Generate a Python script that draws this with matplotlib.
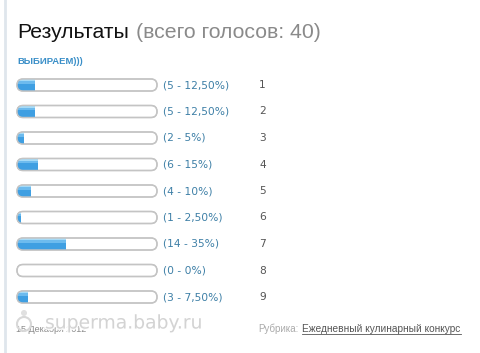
import numpy as np
import matplotlib
matplotlib.use("Agg")
import matplotlib.pyplot as plt
from matplotlib.patches import FancyBboxPatch, Circle
import matplotlib.patheffects as pe

plt.rcParams['font.family'] = ['Liberation Sans', 'DejaVu Sans']

# poll data
options = ["1", "2", "3", "4", "5", "6", "7", "8", "9"]
votes = [5, 5, 2, 6, 4, 1, 14, 0, 3]
percents = [12.5, 12.5, 5, 15, 10, 2.5, 35, 0, 7.5]
pct_labels = ["12,50%", "12,50%", "5%", "15%", "10%", "2,50%", "35%", "0%", "7,50%"]
total = 40

fig = plt.figure(figsize=(4.8, 3.53), dpi=100)
ax = fig.add_axes([0, 0, 1, 1])
ax.set_xlim(0, 480)
ax.set_ylim(353, 0)
ax.axis("off")

# left border line
ax.plot([5, 5], [0, 353], color="#dfe6ec", lw=2)

ax.text(17, 33, "Результаты", fontsize=15.3, color="#111111", va="center")
ax.text(136, 33, "(всего голосов: %d)" % total, fontsize=15.3, color="#8a8a8a", va="center")
ax.text(17, 62, "ВЫБИРАЕМ)))", fontsize=6.8, color="#3a8fc8", fontweight="bold", va="center")

x0 = 17
bar_w = 140
h = 12
y_first = 85
step = 26.5

for i in range(len(options)):
    yc = y_first + i * step
    pill = FancyBboxPatch((x0, yc - h / 2), bar_w, h,
                          boxstyle="round,pad=0,rounding_size=6",
                          facecolor="white", edgecolor="#c4c4c4", lw=1.0, zorder=2)
    ax.add_patch(pill)
    w = bar_w * percents[i] / 100
    b1 = ax.barh(yc, w, height=h, left=x0, color="#3f9fe2", zorder=3)
    b2 = ax.barh(yc - h / 2 + 3, w, height=3, left=x0, color="#6dbbee", zorder=3)
    b3 = ax.barh(yc - h / 2 + 1, w, height=2, left=x0, color="#a6dbf7", zorder=3)
    for b in list(b1) + list(b2) + list(b3):
        b.set_clip_path(pill)
    ax.add_patch(FancyBboxPatch((x0, yc - h / 2), bar_w, h,
                                boxstyle="round,pad=0,rounding_size=6",
                                facecolor="none", edgecolor="#c4c4c4", lw=1.0, zorder=4))
    ax.text(163, yc, "(%d - %s)" % (votes[i], pct_labels[i]), fontsize=7.7,
            color="#3d7fa6", va="center", family=["DejaVu Sans"])
    ax.text(259, yc, options[i], fontsize=7.7, color="#555555", va="center",
            family=["DejaVu Sans"])

# footer
ax.text(16, 329, "15 Декабря 2012", fontsize=6.5, color="#8a8a8a", va="center")
ax.text(258, 329, "Рубрика:", fontsize=7, color="#aaaaaa", va="center")
ax.text(302, 329, "Ежедневный кулинарный конкурс", fontsize=7.3, color="#555555", va="center")
ax.plot([302, 461], [334, 334], color="#555555", lw=0.6)

# watermark
ax.add_patch(Circle((24, 324), 7, facecolor="none", edgecolor="#d8d8d8", lw=1.5, zorder=5))
ax.add_patch(Circle((24, 313), 3, facecolor="#e0e0e0", edgecolor="none", zorder=5))
ax.text(45, 323, "superma.baby.ru", fontsize=13.5, color="#cfcfcf", va="center",
        family=["DejaVu Sans"], alpha=0.9, zorder=6,
        path_effects=[pe.withStroke(linewidth=2, foreground="white")])

fig.savefig("out.png", dpi=100)
